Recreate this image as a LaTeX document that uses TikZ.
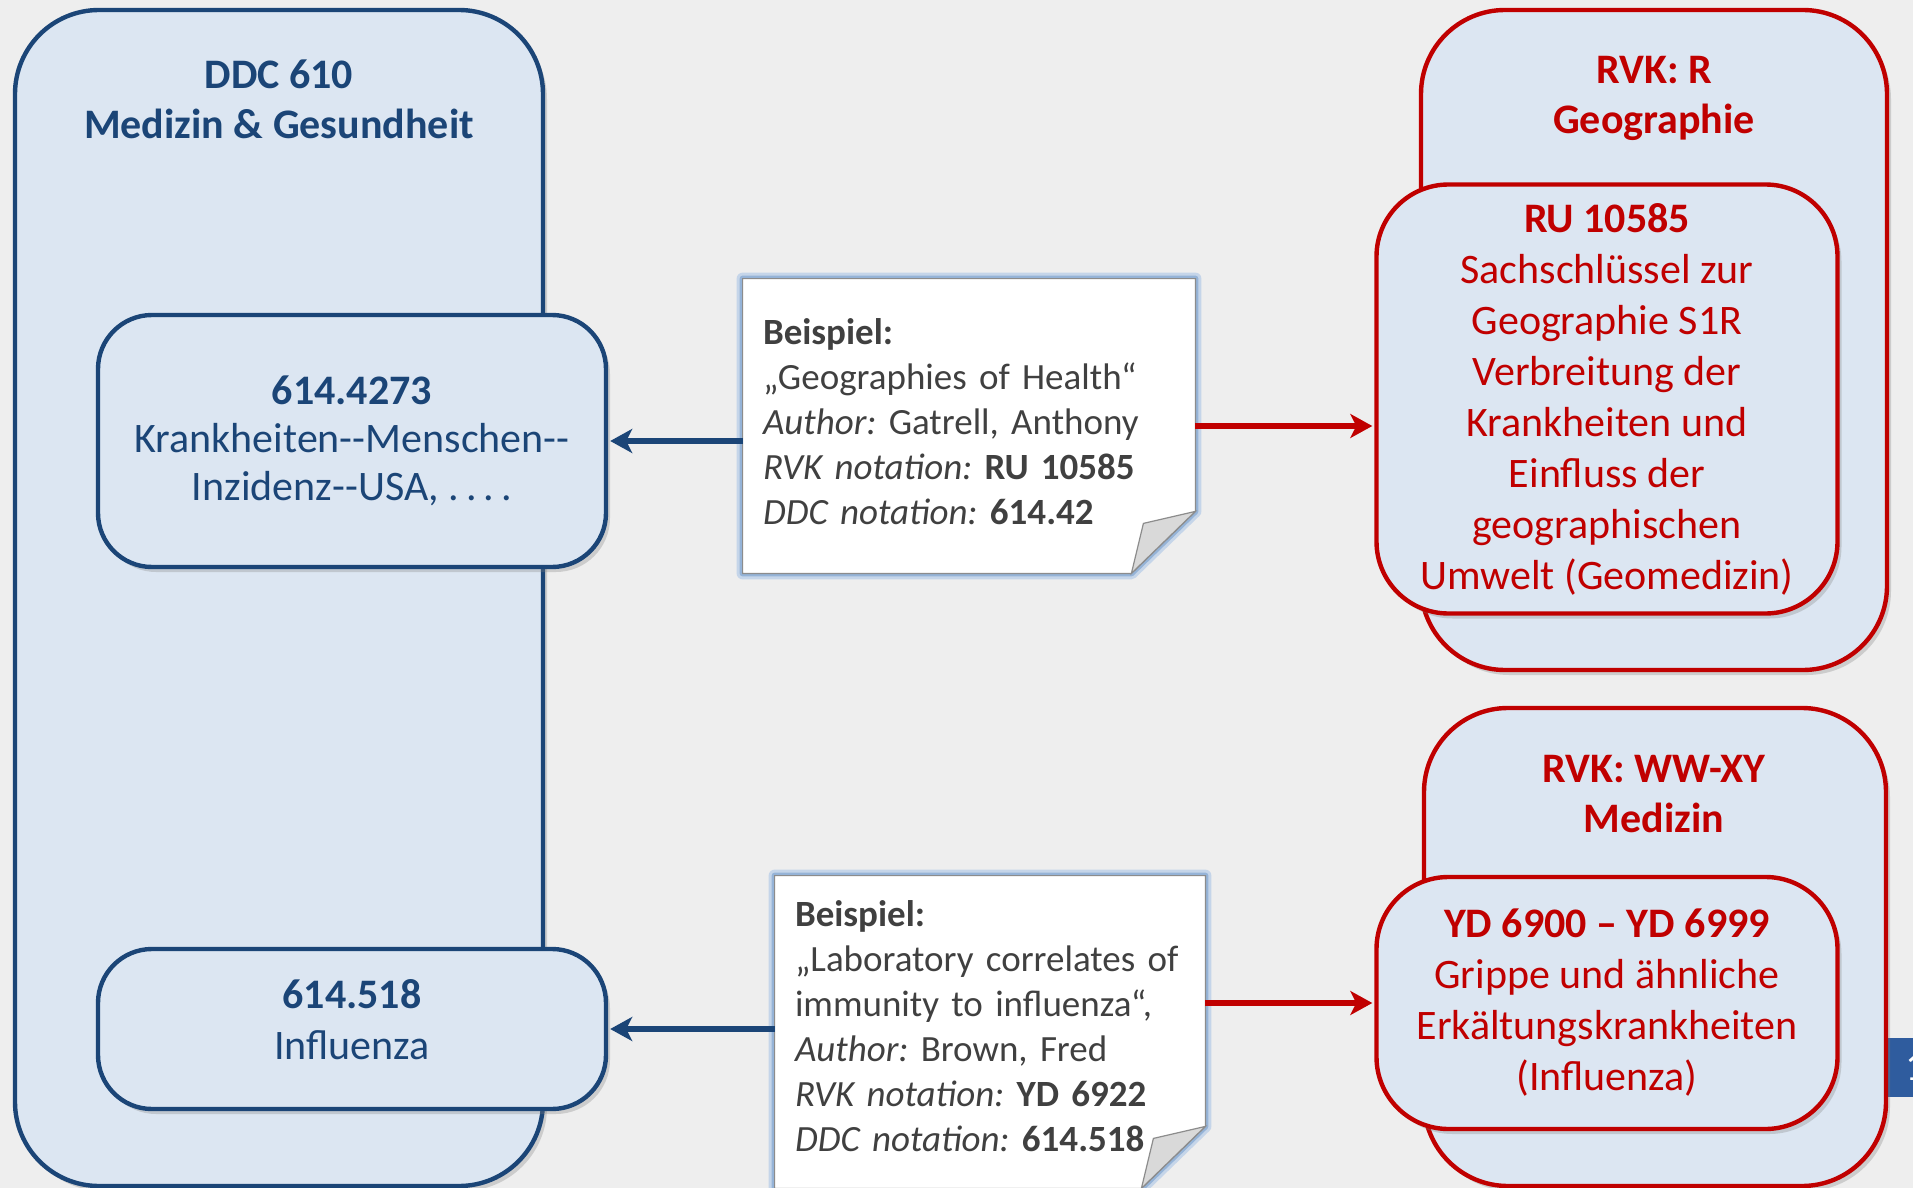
\documentclass[tikz,border=0pt]{standalone}
\usepackage{fontspec}
\setmainfont{Carlito}
\usetikzlibrary{positioning, arrows.meta, shadows, backgrounds}
\definecolor{ddcblue}{HTML}{1B4577}
\definecolor{rvkred}{HTML}{C00000}
\definecolor{boxfill}{HTML}{DCE6F2}
\definecolor{pagebg}{HTML}{EEEEEE}
\definecolor{notetext}{HTML}{404040}
\definecolor{noteglow}{HTML}{95B3D7}
\definecolor{notegray}{HTML}{8C8C8C}
\definecolor{foldgray}{HTML}{D9D9D9}
\definecolor{tabblue}{HTML}{2F5C9E}
\tikzset{
    x=0.5pt, y=-0.5pt,
    classbox/.style={draw, line width=2.2pt, fill=boxfill, rounded corners=42pt,
        drop shadow={shadow xshift=2pt, shadow yshift=-2.5pt, opacity=0.3}},
    ddcbox/.style={classbox, draw=ddcblue, text=ddcblue},
    rvkbox/.style={classbox, draw=rvkred, text=rvkred},
    subbox/.style={align=center, font=\fontsize{21}{24}\selectfont},
    headline/.style={align=center, font=\bfseries\fontsize{21}{25}\selectfont},
    note/.style={align=left, inner xsep=10pt, text=notetext,
        font=\fontsize{18.5}{22.5}\selectfont},
    ddcarrow/.style={draw=ddcblue, line width=3pt, shorten >=1pt,
        -{Stealth[length=11pt, width=12pt, inset=3pt]}},
    rvkarrow/.style={draw=rvkred, line width=3pt, shorten >=1pt,
        -{Stealth[length=11pt, width=12pt, inset=3pt]}},
    pagetab/.style={fill=tabblue, text=white, minimum height=29.5pt, text width=20pt,
        inner xsep=8.5pt, align=left, font=\fontsize{21}{24}\selectfont},
}
% sheet of paper with a folded corner, drawn behind the note text
\newcommand{\notepaper}[1]{%
  \begin{scope}[on background layer]
    \draw[noteglow!55, line width=6pt, line join=round] (#1.north west) -- (#1.north east)
      -- ([yshift=31pt]#1.south east) -- ([xshift=-32pt]#1.south east) -- (#1.south west) -- cycle;
    \draw[noteglow, line width=3pt, line join=round] (#1.north west) -- (#1.north east)
      -- ([yshift=31pt]#1.south east) -- ([xshift=-32pt]#1.south east) -- (#1.south west) -- cycle;
    \filldraw[fill=white, draw=notegray, line width=0.6pt] (#1.north west) -- (#1.north east)
      -- ([yshift=31pt]#1.south east) -- ([xshift=-32pt]#1.south east) -- (#1.south west) -- cycle;
    \filldraw[fill=foldgray, draw=notegray, line width=0.6pt] ([yshift=31pt]#1.south east)
      -- ([xshift=-26pt, yshift=25pt]#1.south east) -- ([xshift=-32pt]#1.south east) -- cycle;
  \end{scope}}

\begin{document}
\frenchspacing
\begin{tikzpicture}

\useasboundingbox (0,0) rectangle (1913,1188);
\begin{pgfonlayer}{background}
  \fill[pagebg] (0,0) rectangle (1913,1188);
\end{pgfonlayer}
\clip (0,0) rectangle (1913,1188);

% DDC side
\node[ddcbox, minimum width=264pt, minimum height=588pt] (ddc) at (279,598) {};
\node[headline, text=ddcblue] (ddctitle) at (279,99) {DDC 610\\Medizin \& Gesundheit};
\node[ddcbox, subbox, rounded corners=27pt, minimum width=254pt, minimum height=126pt] (ddcgeo) at (352,441)
  {\textbf{614.4273}\\Krankheiten-{}-Menschen-{}-\\Inzidenz-{}-USA, .\,.\,.\,.};
\node[ddcbox, subbox, font=\fontsize{21}{25.5}\selectfont, text depth=10pt, rounded corners=27pt,
  minimum width=254pt, minimum height=80pt] (ddcflu) at (352,1029)
  {\textbf{614.518}\\Influenza};

% RVK side
\node[pagetab, anchor=west] (pagetab) at (1888,1067) {1};
\node[rvkbox, minimum width=233pt, minimum height=330pt] (rvkgeo) at (1654,340) {};
\node[headline, text=rvkred] (geotitle) at (1654,98) {RVK: R\\Geographie};
\node[rvkbox, subbox, font=\fontsize{21}{25.5}\selectfont, rounded corners=36pt,
  minimum width=230.5pt, minimum height=214.5pt] (rvkru) at (1607,399)
  {\textbf{RU 10585}\\Sachschlüssel zur\\Geographie S1R\\Verbreitung der\\Krankheiten und\\Einfluss der\\geographischen\\Umwelt (Geomedizin)};
\node[rvkbox, minimum width=231pt, minimum height=239pt] (rvkmed) at (1655,947) {};
\node[headline, text=rvkred] (medtitle) at (1654,794) {RVK: WW-XY\\Medizin};
\node[rvkbox, subbox, font=\fontsize{21}{25.5}\selectfont, rounded corners=36pt,
  minimum width=230.5pt, minimum height=126pt] (rvkyd) at (1607,1003)
  {\textbf{YD 6900 – YD 6999}\\Grippe und ähnliche\\Erkältungskrankheiten\\(Influenza)};

% examples
\node[note, text width=206pt, minimum height=147pt] (geonote) at (969,426)
  {\textbf{Beispiel:}\\
   „Geographies of Health“\\
   \textit{Author:} Gatrell, Anthony\\
   \textit{RVK notation:} \textbf{RU 10585}\\
   \textit{DDC notation:} \textbf{614.42}\par\vspace{4pt}};
\notepaper{geonote}
\node[note, text width=195pt, minimum height=156pt] (flunote) at (990,1032)
  {\textbf{Beispiel:}\\
   „Laboratory correlates of\\
   immunity to influenza“,\\
   \textit{Author:} Brown, Fred\\
   \textit{RVK notation:} \textbf{YD 6922}\\
   \textit{DDC notation:} \textbf{614.518}\par\vspace{6pt}};
\notepaper{flunote}

\draw[ddcarrow] (geonote.west |- ddcgeo.east) -- (ddcgeo.east);
\draw[rvkarrow] (geonote.east) -- (rvkru.west |- geonote.east);
\draw[ddcarrow] (flunote.west |- ddcflu.east) -- (ddcflu.east);
\draw[rvkarrow] (flunote.east |- rvkyd.west) -- (rvkyd.west);

\end{tikzpicture}
\end{document}
